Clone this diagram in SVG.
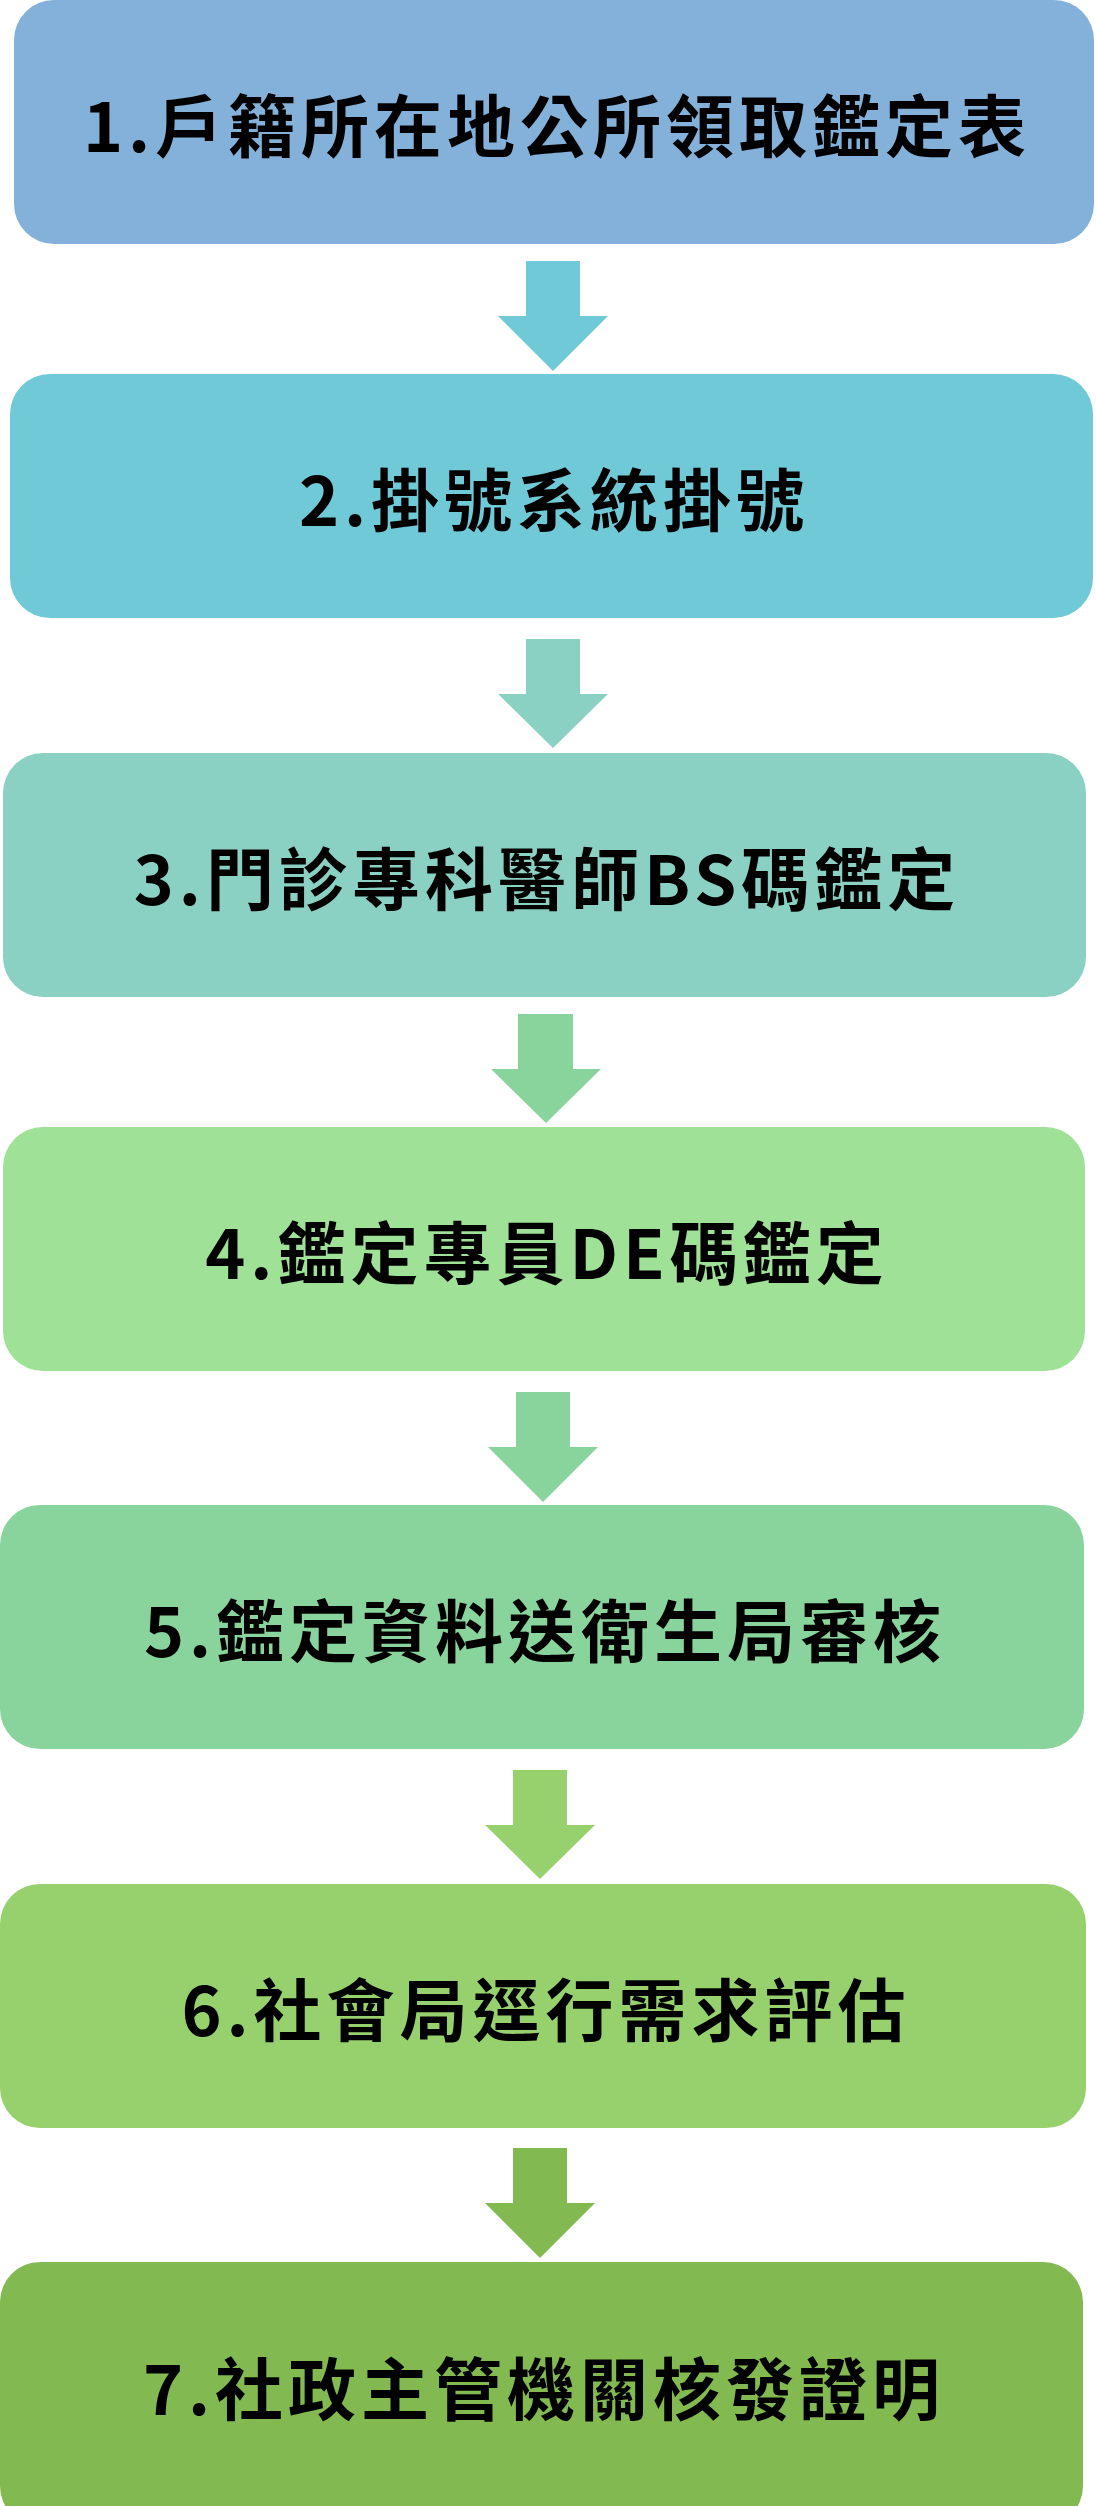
<svg xmlns="http://www.w3.org/2000/svg" width="1096" height="2506" viewBox="0 0 1096 2506">
<style>
.lbl{font-family:"Noto Sans CJK TC","Noto Sans CJK SC",sans-serif;font-weight:700;font-size:68px;letter-spacing:5px;fill:#000;text-anchor:middle;dominant-baseline:central}
.c1{fill:#83B1D9}.c2{fill:#6FC9D6}.c3{fill:#8AD1C3}.c4{fill:#9FE297}.c5{fill:#89D49C}.c6{fill:#97D16E}.c7{fill:#82B950}
</style>
<rect width="1096" height="2506" fill="#FFFFFF"/>
<g id="connectors">
<polygon class="c2" points="526,261 580,261 580,316 608,316 553,371 498,316 526,316"/>
<polygon class="c3" points="526,639 580,639 580,694 608,694 553,748 498,694 526,694"/>
<polygon class="c5" points="518,1014 573,1014 573,1069 601,1069 546,1123 491,1069 518,1069"/>
<polygon class="c5" points="516,1392 570,1392 570,1447 598,1447 543,1502 488,1447 516,1447"/>
<polygon class="c6" points="513,1770 567,1770 567,1825 595,1825 540,1879 485,1825 513,1825"/>
<polygon class="c7" points="513,2148 567,2148 567,2203 595,2203 540,2258 485,2203 513,2203"/>
</g>
<g id="node1"><rect class="c1" x="14" y="0" width="1080" height="244" rx="40"/><text class="lbl" x="557" y="122">1.戶籍所在地公所領取鑑定表</text></g>
<g id="node2"><rect class="c2" x="10" y="374" width="1083" height="244" rx="40"/><text class="lbl" x="554" y="496">2.掛號系統掛號</text></g>
<g id="node3"><rect class="c3" x="3" y="753" width="1083" height="244" rx="40"/><text class="lbl" x="547" y="875">3.門診專科醫師BS碼鑑定</text></g>
<g id="node4"><rect class="c4" x="3" y="1127" width="1082" height="244" rx="40"/><text class="lbl" x="547" y="1249">4.鑑定專員DE碼鑑定</text></g>
<g id="node5"><rect class="c5" x="0" y="1505" width="1084" height="244" rx="40"/><text class="lbl" x="545" y="1627">5.鑑定資料送衛生局審核</text></g>
<g id="node6"><rect class="c6" x="0" y="1884" width="1086" height="244" rx="40"/><text class="lbl" x="546" y="2006">6.社會局逕行需求評估</text></g>
<g id="node7"><rect class="c7" x="0" y="2262" width="1083" height="264" rx="40"/><text class="lbl" x="544" y="2385">7.社政主管機關核發證明</text></g>
</svg>
